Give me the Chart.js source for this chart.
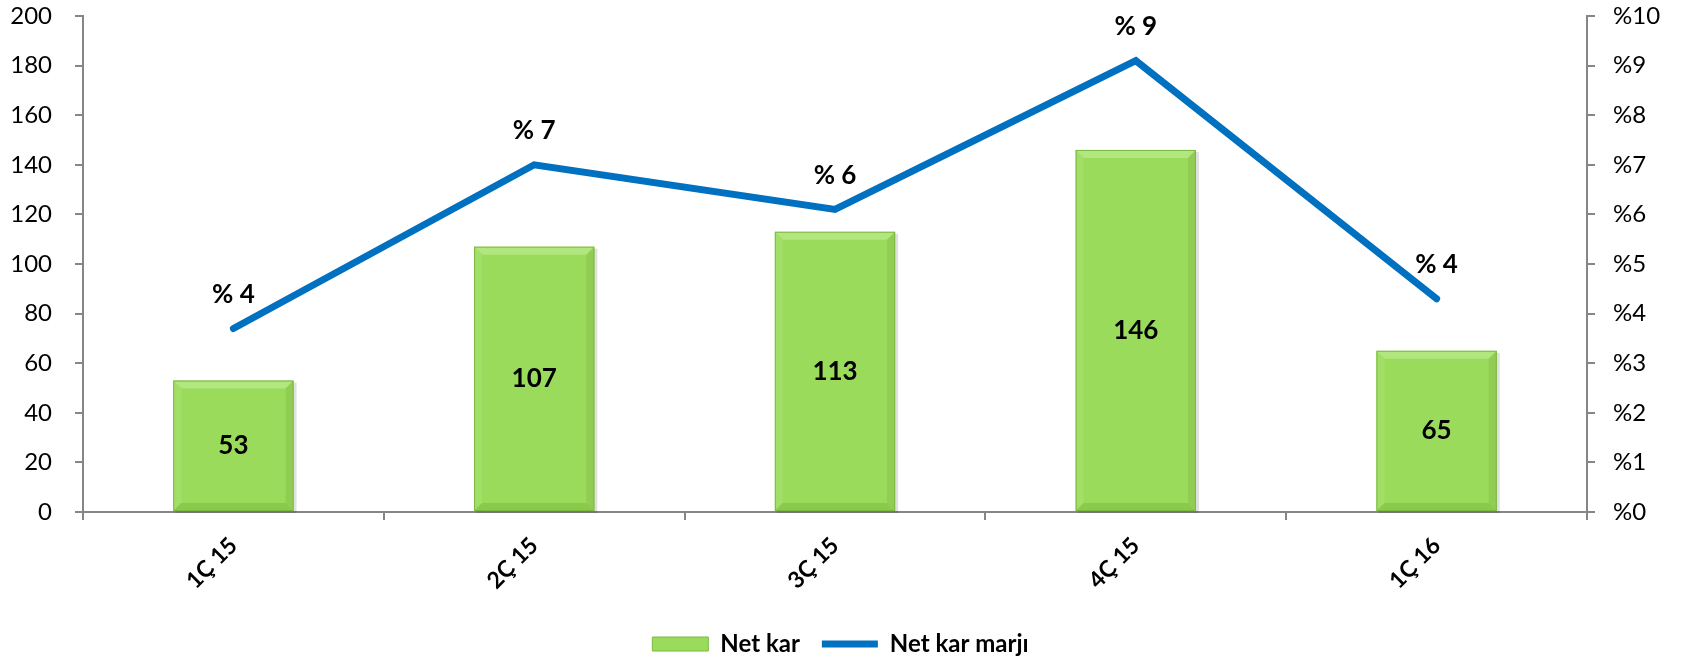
<!DOCTYPE html>
<html>
<head>
<meta charset="utf-8">
<script src="https://cdn.jsdelivr.net/npm/chart.js@4/dist/chart.umd.min.js"></script>
<style>
  html, body { margin: 0; padding: 0; background: #fff; }
  canvas { display: block; }
</style>
</head>
<body>
<canvas id="grafik" width="1681" height="658"></canvas>
<script>
// Veriler
const donemler = ['1Ç 15', '2Ç 15', '3Ç 15', '4Ç 15', '1Ç 16'];
const netKar = [53, 107, 113, 146, 65];
const netKarMarji = [3.7, 7.0, 6.1, 9.1, 4.3]; // yüzde
const solEksenEtiketleri = ['0', '20', '40', '60', '80', '100', '120', '140', '160', '180', '200'];
const sagEksenEtiketleri = ['%0', '%1', '%2', '%3', '%4', '%5', '%6', '%7', '%8', '%9', '%10'];

const yazi = 'Lato, "Open Sans", sans-serif';
const eksenRengi = '#868686';

// Çubuklara kabartma (bevel) ve gölge efekti
const kabartma = {
    id: 'kabartma',
    beforeDatasetDraw(chart, args) {
        if (args.index !== 0) return;
        const ctx = chart.ctx;
        ctx.save();
        args.meta.data.forEach(bar => {
            const x0 = bar.x - bar.width / 2, y0 = bar.y;
            const w = bar.width, h = bar.base - bar.y;
            ctx.fillStyle = 'rgba(0,0,0,0.12)';
            ctx.fillRect(x0 + 2, y0 + 2, w + 1, h);
        });
        ctx.restore();
    },
    afterDatasetDraw(chart, args) {
        if (args.index !== 0) return;
        const ctx = chart.ctx;
        const b = 8;
        ctx.save();
        args.meta.data.forEach(bar => {
            const l = bar.x - bar.width / 2, r = bar.x + bar.width / 2;
            const t = bar.y, bt = bar.base;
            const kenar = (pts, renk) => {
                ctx.beginPath();
                ctx.moveTo(pts[0][0], pts[0][1]);
                for (let i = 1; i < pts.length; i++) ctx.lineTo(pts[i][0], pts[i][1]);
                ctx.closePath();
                ctx.fillStyle = renk;
                ctx.fill();
            };
            kenar([[l, t], [r, t], [r - b, t + b], [l + b, t + b]], '#b2e67e');
            kenar([[l, t], [l + b, t + b], [l + b, bt - b], [l, bt]], '#a2df66');
            kenar([[r, t], [r, bt], [r - b, bt - b], [r - b, t + b]], '#90cd52');
            kenar([[l, bt], [l + b, bt - b], [r - b, bt - b], [r, bt]], '#8aca4b');
            ctx.strokeStyle = '#7db843';
            ctx.lineWidth = 1;
            ctx.strokeRect(l + 0.5, t + 0.5, bar.width - 1, bt - t - 1);
        });
        ctx.restore();
    }
};

// Değer etiketleri
const etiketler = {
    id: 'etiketler',
    afterDatasetsDraw(chart) {
        const ctx = chart.ctx;
        ctx.save();
        ctx.fillStyle = '#000';
        ctx.font = 'bold 26px ' + yazi;
        ctx.textAlign = 'center';
        ctx.textBaseline = 'middle';
        chart.getDatasetMeta(0).data.forEach((bar, i) => {
            ctx.fillText(String(netKar[i]), bar.x, (bar.y + bar.base) / 2);
        });
        chart.getDatasetMeta(1).data.forEach((pt, i) => {
            ctx.fillText('% ' + Math.round(netKarMarji[i]), pt.x, pt.y - 34);
        });
        ctx.restore();
    }
};

// Dikey eksenlerin genişliği sabit, üst/alt iç boşluk yok
const dikeyEksen = genislik => s => {
    s.width = genislik;
    s.paddingTop = 0;
    s.paddingBottom = 0;
};

new Chart(document.getElementById('grafik'), {
    type: 'bar',
    data: {
        labels: donemler,
        datasets: [
            {
                label: 'Net kar',
                data: netKar,
                yAxisID: 'y',
                backgroundColor: '#9bdb5b',
                borderColor: '#7db843',
                borderWidth: 1,
                categoryPercentage: 1,
                barPercentage: 0.4,
                pointStyle: 'rect',
                order: 1
            },
            {
                type: 'line',
                label: 'Net kar marjı',
                data: netKarMarji,
                yAxisID: 'y1',
                borderColor: '#0070c0',
                backgroundColor: '#0070c0',
                borderWidth: 7,
                borderCapStyle: 'round',
                borderJoinStyle: 'miter',
                pointRadius: 0,
                pointStyle: 'line',
                tension: 0,
                order: 0
            }
        ]
    },
    options: {
        responsive: false,
        animation: false,
        layout: { padding: { top: 16, left: 0, right: 0, bottom: 0 } },
        plugins: {
            tooltip: { enabled: false },
            legend: {
                position: 'bottom',
                maxHeight: 48,
                labels: {
                    sort: (a, b) => a.datasetIndex - b.datasetIndex,
                    usePointStyle: true,
                    pointStyleWidth: 56,
                    boxHeight: 14,
                    padding: 22,
                    color: '#000',
                    font: { family: yazi, size: 24, weight: 'bold', lineHeight: 1 }
                }
            }
        },
        scales: {
            x: {
                afterFit: s => { s.height = 98; },
                border: { color: eksenRengi, width: 2 },
                grid: { drawOnChartArea: false, color: eksenRengi, lineWidth: 2, tickLength: 8 },
                ticks: {
                    minRotation: 45, maxRotation: 45, padding: 12,
                    color: '#000',
                    font: { family: yazi, size: 23, weight: 'bold' }
                }
            },
            y: {
                position: 'left',
                min: 0, max: 200,
                afterFit: dikeyEksen(83),
                border: { color: eksenRengi, width: 2 },
                grid: { drawOnChartArea: false, color: eksenRengi, lineWidth: 2, tickLength: 8 },
                ticks: {
                    stepSize: 20, padding: 23, color: '#000',
                    font: { family: yazi, size: 24 },
                    callback: (v, i) => solEksenEtiketleri[i]
                }
            },
            y1: {
                position: 'right',
                min: 0, max: 10,
                afterFit: dikeyEksen(94),
                border: { color: eksenRengi, width: 2 },
                grid: { drawOnChartArea: false, color: eksenRengi, lineWidth: 2, tickLength: 8 },
                ticks: {
                    stepSize: 1, padding: 18, color: '#000',
                    font: { family: yazi, size: 24 },
                    callback: (v, i) => sagEksenEtiketleri[i]
                }
            }
        }
    },
    plugins: [kabartma, etiketler]
});
</script>
</body>
</html>
